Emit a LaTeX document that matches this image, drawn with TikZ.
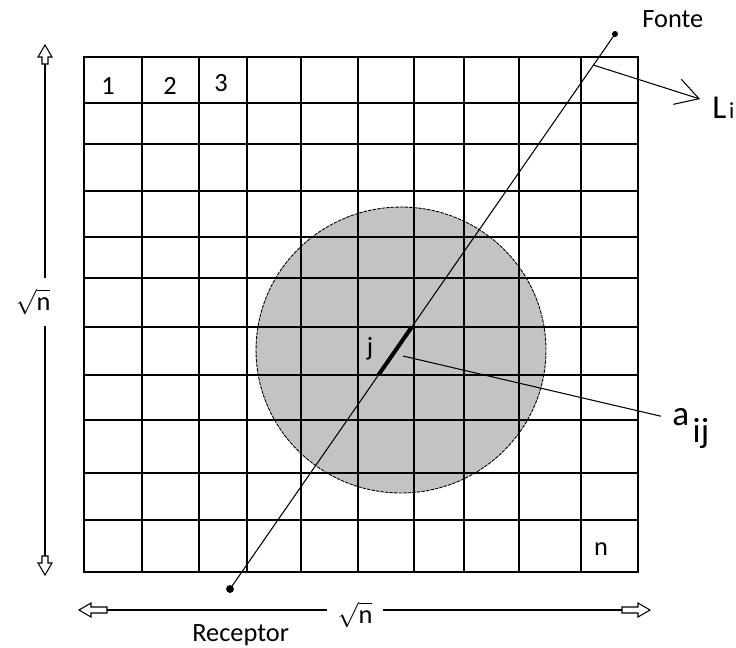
\documentclass[tikz,border=0pt]{standalone}
\usepackage{amsmath}
\usepackage{fontspec}
\setmainfont{Carlito}
\usetikzlibrary{arrows.meta,calc}
\definecolor{objgray}{RGB}{195,195,195}

\begin{document}
\begin{tikzpicture}[
  x=0.02cm, y=-0.02cm,
  cell/.style={line width=1.1pt, line cap=rect},
  ray/.style={line width=0.6pt},
  dim/.style={line width=0.8pt},
  lbl/.style={inner sep=0pt, font=\fontsize{15pt}{18pt}\selectfont},
  dimlbl/.style={inner sep=6pt, font=\fontsize{15pt}{18pt}\selectfont},
  dot/.style={circle, fill, inner sep=0pt, minimum size=#1},
  pics/hollowtip/.style={code={
    \draw[fill=white, line width=0.6pt] (0,0) -- (-12,-7) -- (-12,-3) -- (-#1,-3)
      -- (-#1,3) -- (-12,3) -- (-12,7) -- cycle;}}
]
\useasboundingbox (0,0) rectangle (736,647);
\fill[objgray] (401,350) ellipse [x radius=2.9cm, y radius=2.86cm];
\draw[line width=0.5pt, dash pattern=on 2pt off 0.6pt] (401,350) ellipse [x radius=2.9cm, y radius=2.86cm];
\foreach \gx in {84,142,199,247,301,358,414,464,519,581,638}
  \draw[cell] (\gx,57) -- (\gx,572);
\foreach \gy in {57,103,144,191,237,278,327,375,420,473,520,572}
  \draw[cell] (84,\gy) -- (638,\gy);

\node[lbl] (c1) at (108,86) {1};
\node[lbl] (c2) at (170,86) {2};
\node[lbl] (c3) at (221,83) {3};
\node[lbl] (cn) at (601,549) {n};

\node[dot=3.4pt] (fonte) at (615,34) {};
\node[dot=4.5pt] (receptor) at (230,589) {};
\draw[ray] (receptor.center) -- (fonte.center);
\coordinate (jin) at ($(receptor)!0.3856!(fonte)$);
\coordinate (jout) at ($(receptor)!0.4721!(fonte)$);
\draw[line width=2.3pt] (jin) -- (jout);
\coordinate (lstart) at ($(receptor)!0.944!(fonte)$);
\coordinate (jmark) at (403,356);

\node[lbl, anchor=base west] (fontelbl) at (642,27) {Fonte};
\node[lbl, anchor=base west] (receptorlbl) at (192,641) {Receptor};
\node[lbl] (jlbl) at (370,349) {j};
\node[lbl, anchor=base west, font=\fontsize{19pt}{22pt}\selectfont] (li) at (712,118)
  {L\hspace{1.5pt}{\fontsize{13pt}{15pt}\selectfont i}};
\node[lbl, anchor=base west, font=\fontsize{20pt}{24pt}\selectfont] (aij) at (672,425)
  {a\hspace{2pt}\raisebox{-10pt}{ij}};

\draw[ray, -{Straight Barb[length=13pt, width=15pt]}] (lstart) -- ([xshift=-6.8pt, yshift=10.8pt]li.base west);
\draw[ray] (jmark) -- ([xshift=-6.3pt, yshift=5pt]aij.base west);

\node[dimlbl] (sqrtl) at (33,302) {$\sqrt{\text{n}}$};
\node[dimlbl] (sqrtb) at (355,615) {$\sqrt{\text{n}}$};
\coordinate (dimtop) at (45,45);
\coordinate (dimbot) at (45,575);
\coordinate (dimleft) at (79,610);
\coordinate (dimright) at (650,610);
\draw[dim] (dimtop) -- (dimtop |- sqrtl.north);
\draw[dim] (dimbot) -- (dimbot |- sqrtl.south);
\draw[dim] (dimleft) -- (dimleft -| sqrtb.west);
\draw[dim] (dimright) -- (dimright -| sqrtb.east);
\pic[rotate=90] at (dimtop) {hollowtip=19};
\pic[rotate=-90] at (dimbot) {hollowtip=19};
\pic[rotate=180] at (dimleft) {hollowtip=28};
\pic at (dimright) {hollowtip=28};
\end{tikzpicture}
\end{document}
